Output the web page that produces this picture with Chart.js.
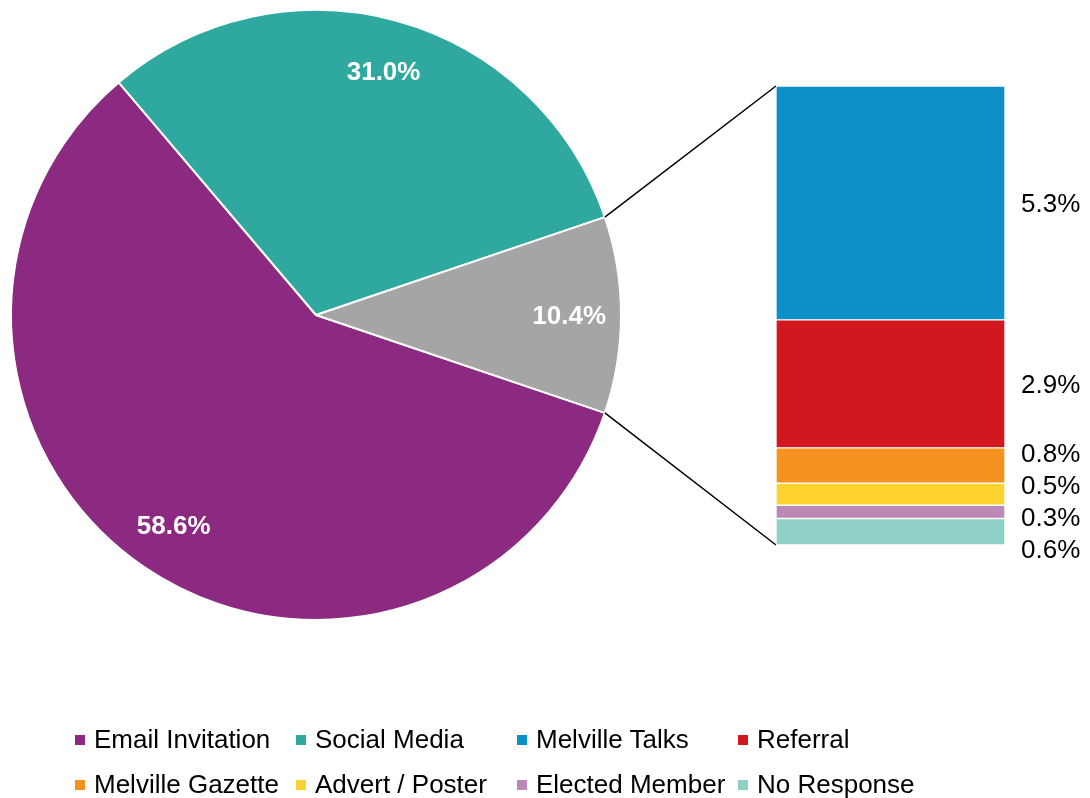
<!DOCTYPE html>
<html lang="en">
<head>
    <meta charset="UTF-8">
    <meta name="viewport" content="width=device-width, initial-scale=1.0">
    <title>How people heard about it</title>
    <script src="https://cdn.jsdelivr.net/npm/chart.js"></script>
    <style>
        body { margin: 0; background: #fff; font-family: "Liberation Sans", Arial, sans-serif; }
        .janela { position: relative; width: 1090px; height: 798px; overflow: hidden; }
        .janela canvas { position: absolute; left: 0; top: 0; }
        .legenda { position: absolute; left: 75px; top: 717px; display: grid; grid-template-columns: repeat(4, 221px); grid-auto-rows: 45px; }
        .item-legenda { display: flex; align-items: center; font-size: 26px; color: #000; white-space: nowrap; }
        .marca { width: 10px; height: 10px; margin-right: 9px; flex: none; }
    </style>
</head>
<body>
    <div class="janela">
        <canvas id="grafico_pizza" width="1090" height="798"></canvas>
        <canvas id="grafico_barra" width="1090" height="798"></canvas>
        <div id="legenda" class="legenda"></div>
    </div>
<script>
    // main pie: the last slice is broken down in the bar on the right
    var nomes_pizza = ['Email Invitation', 'Social Media', 'Other'];
    var valores_pizza = [58.6, 31.0, 10.4];
    var cores_pizza = ['#8B2A80', '#2FA99F', '#A5A5A5'];

    var nomes_barra = ['Melville Talks', 'Referral', 'Melville Gazette', 'Advert / Poster', 'Elected Member', 'No Response'];
    var valores_barra = [5.3, 2.9, 0.8, 0.5, 0.3, 0.6];
    var cores_barra = ['#0D8FC7', '#D2181F', '#F6931F', '#FED330', '#BC88B6', '#8ED0C6'];

    var fonte = '"Liberation Sans", Arial, sans-serif';

    var soma_pizza = 0;
    for (var i = 0; i < valores_pizza.length; i++) soma_pizza += valores_pizza[i];
    var total_outros = 0;
    for (var i = 0; i < valores_barra.length; i++) total_outros += valores_barra[i];

    var rotulos_pizza = {
        id: 'rotulos_pizza',
        afterDatasetsDraw: function (chart) {
            var ctx = chart.ctx;
            var arcos = chart.getDatasetMeta(0).data;
            ctx.save();
            ctx.fillStyle = '#fff';
            ctx.font = 'bold 26px ' + fonte;
            ctx.textAlign = 'center';
            ctx.textBaseline = 'middle';
            for (var i = 0; i < arcos.length; i++) {
                var a = arcos[i];
                var meio = (a.startAngle + a.endAngle) / 2;
                var r = a.outerRadius * 0.83;
                ctx.fillText(valores_pizza[i].toFixed(1) + '%', a.x + Math.cos(meio) * r, a.y + Math.sin(meio) * r + 2);
            }
            ctx.restore();
        }
    };

    const grafico_pizza = new Chart('grafico_pizza', {
        type: 'pie',
        data: {
            labels: nomes_pizza,
            datasets: [{
                data: valores_pizza,
                backgroundColor: cores_pizza,
                borderColor: '#fff',
                borderWidth: 2
            }]
        },
        options: {
            responsive: false,
            animation: false,
            // "Other" slice centred on the right side
            rotation: 90 + valores_pizza[2] / soma_pizza * 180,
            layout: { padding: { left: 10, top: 9, right: 468, bottom: 177 } },
            plugins: { legend: { display: false }, tooltip: { enabled: false } }
        },
        plugins: [rotulos_pizza]
    });

    // pushes the labels apart when the segments are too thin
    function espalhar(centros, espaco) {
        var pos = centros.slice();
        for (var k = 0; k < 200; k++) {
            for (var i = 1; i < pos.length; i++) {
                var falta = espaco - (pos[i] - pos[i - 1]);
                if (falta > 0.01) {
                    pos[i - 1] -= falta / 2;
                    pos[i] += falta / 2;
                }
            }
        }
        return pos;
    }

    var ligacao_e_rotulos = {
        id: 'ligacao_e_rotulos',
        beforeDatasetsDraw: function (chart) {
            var ctx = chart.ctx;
            var arco = grafico_pizza.getDatasetMeta(0).data[2];
            var barra = chart.getDatasetMeta(0).data[0];
            var esquerda = barra.x - barra.width / 2;
            var topo = chart.scales.y.getPixelForValue(total_outros);
            var base = chart.scales.y.getPixelForValue(0);
            ctx.save();
            ctx.strokeStyle = '#000';
            ctx.lineWidth = 1.5;
            ctx.beginPath();
            ctx.moveTo(arco.x + Math.cos(arco.startAngle) * arco.outerRadius, arco.y + Math.sin(arco.startAngle) * arco.outerRadius);
            ctx.lineTo(esquerda, topo);
            ctx.moveTo(arco.x + Math.cos(arco.endAngle) * arco.outerRadius, arco.y + Math.sin(arco.endAngle) * arco.outerRadius);
            ctx.lineTo(esquerda, base);
            ctx.stroke();
            ctx.restore();
        },
        afterDatasetsDraw: function (chart) {
            var ctx = chart.ctx;
            var n = nomes_barra.length;
            var centros = [];
            var direita = 0;
            for (var i = 0; i < n; i++) {
                var el = chart.getDatasetMeta(n - 1 - i).data[0];
                centros.push((el.y + el.base) / 2);
                direita = el.x + el.width / 2;
            }
            var pos = espalhar(centros, 32);
            ctx.save();
            ctx.fillStyle = '#000';
            ctx.font = '26px ' + fonte;
            ctx.textAlign = 'left';
            ctx.textBaseline = 'middle';
            for (var i = 0; i < n; i++) {
                ctx.fillText(valores_barra[i].toFixed(1) + '%', direita + 16, pos[i] + 2);
            }
            ctx.restore();
        }
    };

    // stacked bottom-up, so the first category ends on top
    var datasets_barra = [];
    for (var i = nomes_barra.length - 1; i >= 0; i--) {
        datasets_barra.push({
            label: nomes_barra[i],
            data: [valores_barra[i]],
            backgroundColor: cores_barra[i],
            borderColor: '#fff',
            borderWidth: 1,
            borderSkipped: false,
            barPercentage: 1,
            categoryPercentage: 1
        });
    }

    const grafico_barra = new Chart('grafico_barra', {
        type: 'bar',
        data: { labels: [''], datasets: datasets_barra },
        options: {
            responsive: false,
            animation: false,
            layout: { padding: { left: 776, top: 86, right: 85, bottom: 253 } },
            scales: {
                x: { display: false, stacked: true },
                y: { display: false, stacked: true, min: 0, max: total_outros }
            },
            plugins: { legend: { display: false }, tooltip: { enabled: false } }
        },
        plugins: [ligacao_e_rotulos]
    });

    // legend: the two big slices, then the breakdown
    var nomes_legenda = [nomes_pizza[0], nomes_pizza[1]].concat(nomes_barra);
    var cores_legenda = [cores_pizza[0], cores_pizza[1]].concat(cores_barra);
    var html = '';
    for (var i = 0; i < nomes_legenda.length; i++) {
        html += '<div class="item-legenda"><span class="marca" style="background:' + cores_legenda[i] + '"></span>' + nomes_legenda[i] + '</div>';
    }
    legenda.innerHTML = html;
</script>
</body>
</html>
